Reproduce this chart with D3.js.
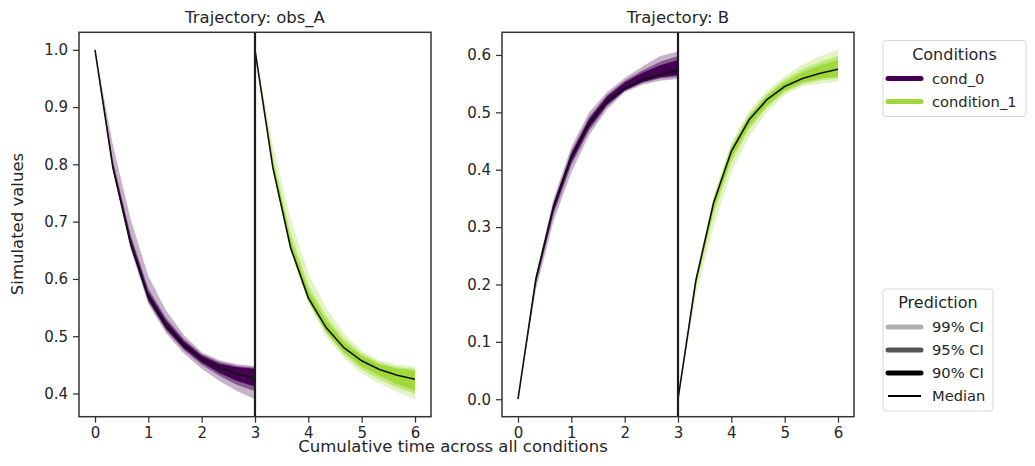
<!DOCTYPE html>
<html>
<head>
<meta charset="utf-8">
<script src="https://cdn.jsdelivr.net/npm/d3@7"></script>
<style>
  body { margin: 0; background: #fff; }
  text { font-family: "DejaVu Sans", sans-serif; fill: #262626; }
</style>
</head>
<body>
<div class="graphContainer"></div>
<script>
// time points per condition (each condition runs 0..3, stacked on a cumulative axis)
var times = [0, 1/3, 2/3, 1, 4/3, 5/3, 2, 7/3, 8/3, 3];
var conditions = ["cond_0", "condition_1"];
var condColors = ["#440154", "#9fda3a"];
var observables = ["obs_A", "B"];
var xTicks = [0, 1, 2, 3, 4, 5, 6];

// obs_A, cond_0
var a0_med  = [1.0, 0.795, 0.662, 0.568, 0.518, 0.484, 0.460, 0.445, 0.434, 0.426];
var a0_99lo = [1.0, 0.790, 0.652, 0.556, 0.505, 0.470, 0.443, 0.422, 0.404, 0.390];
var a0_99hi = [1.0, 0.835, 0.705, 0.605, 0.545, 0.502, 0.472, 0.458, 0.451, 0.448];
var a0_95lo = [1.0, 0.792, 0.656, 0.560, 0.510, 0.476, 0.450, 0.431, 0.415, 0.404];
var a0_95hi = [1.0, 0.808, 0.678, 0.583, 0.532, 0.495, 0.469, 0.455, 0.448, 0.445];
var a0_90lo = [1.0, 0.793, 0.658, 0.563, 0.513, 0.479, 0.454, 0.436, 0.422, 0.412];
var a0_90hi = [1.0, 0.802, 0.672, 0.577, 0.527, 0.491, 0.466, 0.452, 0.446, 0.443];

// obs_A, condition_1
var a1_med  = [1.0, 0.795, 0.655, 0.567, 0.515, 0.480, 0.457, 0.442, 0.432, 0.425];
var a1_99lo = [1.0, 0.788, 0.648, 0.557, 0.500, 0.462, 0.435, 0.418, 0.402, 0.390];
var a1_99hi = [1.0, 0.835, 0.705, 0.610, 0.550, 0.505, 0.475, 0.458, 0.450, 0.447];
var a1_95lo = [1.0, 0.790, 0.650, 0.560, 0.505, 0.468, 0.442, 0.425, 0.410, 0.400];
var a1_95hi = [1.0, 0.815, 0.680, 0.590, 0.535, 0.496, 0.470, 0.454, 0.446, 0.443];
var a1_90lo = [1.0, 0.792, 0.652, 0.562, 0.508, 0.472, 0.447, 0.431, 0.416, 0.405];
var a1_90hi = [1.0, 0.805, 0.670, 0.580, 0.528, 0.490, 0.466, 0.451, 0.443, 0.440];

// B, cond_0
var b0_med  = [0, 0.209, 0.336, 0.423, 0.481, 0.519, 0.542, 0.557, 0.566, 0.574];
var b0_99lo = [0, 0.190, 0.310, 0.395, 0.460, 0.505, 0.535, 0.548, 0.555, 0.558];
var b0_99hi = [0, 0.215, 0.350, 0.440, 0.500, 0.535, 0.560, 0.580, 0.598, 0.606];
var b0_95lo = [0, 0.200, 0.322, 0.408, 0.468, 0.510, 0.537, 0.551, 0.559, 0.562];
var b0_95hi = [0, 0.213, 0.343, 0.432, 0.492, 0.530, 0.555, 0.573, 0.588, 0.598];
var b0_90lo = [0, 0.203, 0.328, 0.414, 0.473, 0.513, 0.538, 0.553, 0.561, 0.565];
var b0_90hi = [0, 0.212, 0.340, 0.428, 0.488, 0.527, 0.552, 0.569, 0.582, 0.591];

// B, condition_1
var b1_med  = [0, 0.206, 0.342, 0.432, 0.487, 0.522, 0.545, 0.559, 0.568, 0.575];
var b1_99lo = [0, 0.180, 0.300, 0.395, 0.458, 0.500, 0.530, 0.545, 0.550, 0.554];
var b1_99hi = [0, 0.215, 0.355, 0.448, 0.503, 0.538, 0.563, 0.583, 0.598, 0.609];
var b1_95lo = [0, 0.195, 0.322, 0.412, 0.470, 0.508, 0.535, 0.549, 0.556, 0.559];
var b1_95hi = [0, 0.212, 0.350, 0.442, 0.497, 0.532, 0.557, 0.575, 0.588, 0.598];
var b1_90lo = [0, 0.200, 0.330, 0.420, 0.476, 0.512, 0.538, 0.552, 0.559, 0.562];
var b1_90hi = [0, 0.210, 0.346, 0.438, 0.493, 0.529, 0.553, 0.570, 0.582, 0.591];

var ciLabels = ["99% CI", "95% CI", "90% CI"];
var ciOpacity = [0.3, 0.5, 1.0];
var ciLegendColors = ["#b0b0b0", "#555555", "#000000"];

var panels = [
  { name: observables[0], conds: [
      { med: a0_med, bands: [[a0_99lo, a0_99hi], [a0_95lo, a0_95hi], [a0_90lo, a0_90hi]] },
      { med: a1_med, bands: [[a1_99lo, a1_99hi], [a1_95lo, a1_95hi], [a1_90lo, a1_90hi]] } ],
    yTicks: [0.4, 0.5, 0.6, 0.7, 0.8, 0.9, 1.0] },
  { name: observables[1], conds: [
      { med: b0_med, bands: [[b0_99lo, b0_99hi], [b0_95lo, b0_95hi], [b0_90lo, b0_90hi]] },
      { med: b1_med, bands: [[b1_99lo, b1_99hi], [b1_95lo, b1_95hi], [b1_90lo, b1_90hi]] } ],
    yTicks: [0.0, 0.1, 0.2, 0.3, 0.4, 0.5, 0.6] }
];

var w = 1035, h = 466;
var plotTop = 32.3, plotBottom = 416.7;
var lefts = [79, 502], pw = 352;

var svg = d3.select(".graphContainer")
  .append("svg")
  .attr("width", w)
  .attr("height", h);

panels.forEach(function (p, pi) {
  var x0 = lefts[pi];
  var xs = d3.scaleLinear().domain([-0.3, 6.3]).range([x0, x0 + pw]);

  // y domain from all values with a 5% margin
  var all = [];
  p.conds.forEach(function (c) { all = all.concat(c.med); c.bands.forEach(function (b) { all = all.concat(b[0], b[1]); }); });
  var ext = d3.extent(all), pad = (ext[1] - ext[0]) * 0.05;
  var ys = d3.scaleLinear().domain([ext[0] - pad, ext[1] + pad]).range([plotBottom, plotTop]);

  var g = svg.append("g");

  p.conds.forEach(function (c, ci) {
    var offset = ci * 3;
    c.bands.forEach(function (b, bi) {
      var area = d3.area()
        .x(function (d, i) { return xs(times[i] + offset); })
        .y0(function (d, i) { return ys(b[0][i]); })
        .y1(function (d, i) { return ys(b[1][i]); });
      g.append("path")
        .datum(times)
        .attr("d", area)
        .attr("fill", condColors[ci])
        .attr("fill-opacity", ciOpacity[bi]);
    });
    var line = d3.line()
      .x(function (d, i) { return xs(times[i] + offset); })
      .y(function (d) { return ys(d); });
    g.append("path")
      .datum(c.med)
      .attr("d", line)
      .attr("fill", "none")
      .attr("stroke", "#111")
      .attr("stroke-width", 1.6);
  });

  // condition boundary
  g.append("line")
    .attr("x1", xs(3)).attr("x2", xs(3))
    .attr("y1", plotTop).attr("y2", plotBottom)
    .attr("stroke", "#1a1a1a")
    .attr("stroke-width", 2.2);

  var axB = g.append("g")
    .attr("transform", "translate(0," + plotBottom + ")")
    .call(d3.axisBottom(xs).tickValues(xTicks).tickSize(6).tickPadding(5).tickFormat(d3.format("d")));
  var axL = g.append("g")
    .attr("transform", "translate(" + x0 + ",0)")
    .call(d3.axisLeft(ys).tickValues(p.yTicks).tickSize(6).tickPadding(5).tickFormat(d3.format(".1f")));
  [axB, axL].forEach(function (a) {
    a.select(".domain").remove();
    a.selectAll("line").attr("stroke", "#333").attr("stroke-width", 1.25);
    a.selectAll("text").style("font-size", "15px").style("font-family", "DejaVu Sans").attr("fill", "#262626");
  });

  g.append("rect")
    .attr("x", x0).attr("y", plotTop)
    .attr("width", pw).attr("height", plotBottom - plotTop)
    .attr("fill", "none")
    .attr("stroke", "#333")
    .attr("stroke-width", 1.5);

  g.append("text")
    .attr("x", x0 + pw / 2).attr("y", 23)
    .attr("text-anchor", "middle")
    .style("font-size", "16.5px")
    .text("Trajectory: " + p.name);
});

svg.append("text")
  .attr("transform", "translate(23,224) rotate(-90)")
  .attr("text-anchor", "middle")
  .style("font-size", "16.5px")
  .text("Simulated values");

svg.append("text")
  .attr("x", 453).attr("y", 452)
  .attr("text-anchor", "middle")
  .style("font-size", "16.5px")
  .text("Cumulative time across all conditions");

// legends
function legend(x, y, wd, title, items) {
  var lg = svg.append("g").attr("transform", "translate(" + x + "," + y + ")");
  lg.append("rect")
    .attr("width", wd).attr("height", 30 + items.length * 23)
    .attr("rx", 3)
    .attr("fill", "#fff").attr("fill-opacity", 0.8)
    .attr("stroke", "#d6d6d6");
  lg.append("text")
    .attr("x", wd / 2).attr("y", 19)
    .attr("text-anchor", "middle")
    .style("font-size", "16px")
    .text(title);
  items.forEach(function (it, i) {
    var yy = 38 + i * 23;
    lg.append("line")
      .attr("x1", 5).attr("x2", 38)
      .attr("y1", yy).attr("y2", yy)
      .attr("stroke", it.color)
      .attr("stroke-width", it.width)
      .attr("stroke-linecap", it.width > 2 ? "round" : "butt");
    lg.append("text")
      .attr("x", 49).attr("y", yy + 5)
      .style("font-size", "14.7px")
      .text(it.label);
  });
}

legend(883, 40.5, 143, "Conditions", conditions.map(function (c, i) {
  return { label: c, color: condColors[i], width: 5 };
}));
legend(883, 289, 110, "Prediction", ciLabels.map(function (c, i) {
  return { label: c, color: ciLegendColors[i], width: 5 };
}).concat([{ label: "Median", color: "#000", width: 2 }]));
</script>
</body>
</html>
